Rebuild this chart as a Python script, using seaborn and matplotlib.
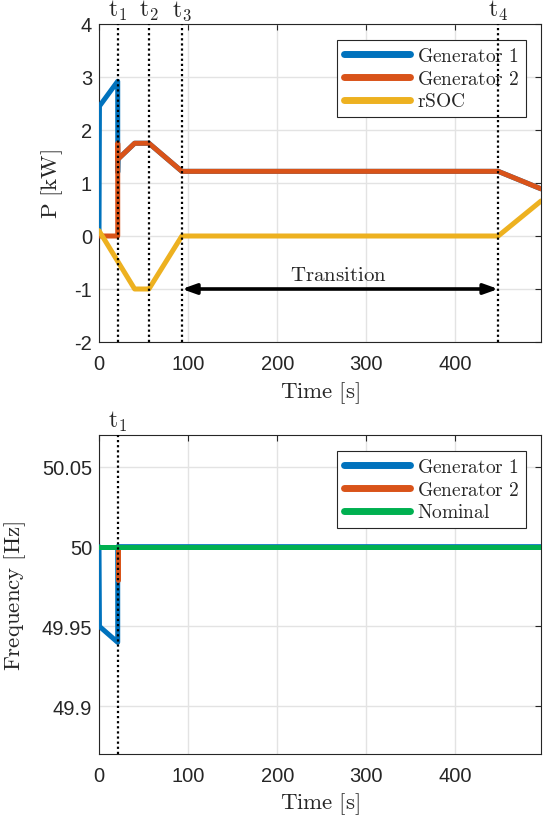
import numpy as np
import pandas as pd
import matplotlib
matplotlib.use("Agg")
import matplotlib.pyplot as plt
import matplotlib.transforms as mtransforms
import seaborn as sns

# ---- power profile (top panel) ----
t_gen1 = [0, 0.5, 21, 21, 21.3, 40, 56, 93, 448, 496]
p_gen1 = [0.1, 2.45, 2.92, 1.2, 1.45, 1.75, 1.75, 1.22, 1.22, 0.89]

t_gen2 = [0, 21, 21, 21.3, 40, 56, 93, 448, 496]
p_gen2 = [0, 0, 1.75, 1.45, 1.75, 1.75, 1.22, 1.22, 0.89]

t_rsoc = [0, 40, 56, 93, 448, 496]
p_rsoc = [0.1, -1, -1, 0, 0, 0.66]

# ---- frequency (bottom panel) ----
t_f_gen1 = [0, 0.5, 21, 21, 496]
f_gen1 = [50.0, 49.95, 49.94, 50.0, 50.0]

t_f_gen2 = [21, 21, 496]
f_gen2 = [49.979, 50.0, 50.0]

t_nominal = [0, 496]
f_nominal = [50.0, 50.0]

# event markers
event_times = [21, 56, 93, 448]
event_labels = ["1", "2", "3", "4"]

C_BLUE = "#0072BD"
C_RED = "#D95319"
C_YEL = "#EDB120"
C_GRN = "#00B050"

sns.set_theme(style="whitegrid")
plt.rcParams["font.family"] = ["Liberation Sans", "DejaVu Sans"]
plt.rcParams["mathtext.fontset"] = "cm"

fig = plt.figure(figsize=(5.43, 8.2), dpi=100)
ax1 = fig.add_axes([99 / 543, 1 - 343 / 820, 442 / 543, 318 / 820])
ax2 = fig.add_axes([99 / 543, 1 - 755 / 820, 442 / 543, 319 / 820])

LW = 3.6
LABEL_FS = 16.5


def line(ax, x, y, color, label, z):
    df = pd.DataFrame({"t": x, "v": y})
    sns.lineplot(data=df, x="t", y="v", ax=ax, estimator=None, sort=False,
                 color=color, linewidth=LW, label=label, zorder=z)


line(ax1, t_gen1, p_gen1, C_BLUE, r"$\mathrm{Generator\ 1}$", 3)
line(ax1, t_gen2, p_gen2, C_RED, r"$\mathrm{Generator\ 2}$", 4)
line(ax1, t_rsoc, p_rsoc, C_YEL, r"$\mathrm{rSOC}$", 5)

line(ax2, t_f_gen1, f_gen1, C_BLUE, r"$\mathrm{Generator\ 1}$", 3)
line(ax2, t_f_gen2, f_gen2, C_RED, r"$\mathrm{Generator\ 2}$", 4)
line(ax2, t_nominal, f_nominal, C_GRN, r"$\mathrm{Nominal}$", 5)


def style(ax, ylim, yticks, yticklabels):
    ax.set_facecolor("white")
    ax.set_xlim(0, 496)
    ax.set_ylim(*ylim)
    ax.set_xticks([0, 100, 200, 300, 400])
    ax.set_yticks(yticks)
    ax.set_yticklabels(yticklabels)
    ax.grid(True, color="#e3e3e3", linewidth=1.0)
    ax.set_axisbelow(True)
    for s in ax.spines.values():
        s.set_visible(True)
        s.set_color("#262626")
        s.set_linewidth(0.8)
    ax.tick_params(direction="in", length=4, width=0.8, colors="#262626",
                   top=True, right=True, labelsize=14.5)
    ax.tick_params(axis="x", pad=9)
    ax.tick_params(axis="y", pad=5)
    ax.set_xlabel(r"$\mathrm{Time\ [s]}$", fontsize=LABEL_FS, color="#262626")


style(ax1, (-2, 4), [-2, -1, 0, 1, 2, 3, 4], ["-2", "-1", "0", "1", "2", "3", "4"])
style(ax2, (49.87, 50.07), [49.9, 49.95, 50.0, 50.05], ["49.9", "49.95", "50", "50.05"])

ax1.set_ylabel(r"$\mathrm{P\ [kW]}$", fontsize=LABEL_FS, color="#262626")
ax2.set_ylabel(r"$\mathrm{Frequency\ [Hz]}$", fontsize=LABEL_FS, color="#262626")
ax1.yaxis.set_label_coords(-0.077, 0.5)
ax2.yaxis.set_label_coords(-0.160, 0.5)
ax1.xaxis.set_label_coords(0.5, -0.118)
ax2.xaxis.set_label_coords(0.5, -0.115)

# event lines with labels above the axes
for ax, times, labels in [(ax1, event_times, event_labels),
                          (ax2, event_times[:1], event_labels[:1])]:
    tr = mtransforms.blended_transform_factory(ax.transData, ax.transAxes)
    for t, lab in zip(times, labels):
        ax.axvline(t, color="black", linestyle=(0, (1, 1.3)), linewidth=1.6, zorder=6)
        ax.text(t, 1.005, r"$\mathrm{t}_{%s}$" % lab, transform=tr, ha="center",
                va="bottom", fontsize=17, color="#262626")

# transition span arrow
ax1.annotate("", xy=(event_times[3], -1), xytext=(event_times[2], -1),
             arrowprops=dict(arrowstyle="<|-|>,head_length=0.7,head_width=0.25",
                             color="black", lw=2.6, shrinkA=0, shrinkB=0),
             zorder=7)
ax1.text(268, -0.72, r"$\mathrm{Transition}$", ha="center", va="center",
         fontsize=15, color="#262626")

for ax in (ax1, ax2):
    leg = ax.legend(loc="upper right", bbox_to_anchor=(0.966, 0.95), borderaxespad=0,
                    fontsize=14, handlelength=3.4, handletextpad=0.35,
                    labelspacing=0.25, borderpad=0.35, frameon=True, fancybox=False,
                    framealpha=1, edgecolor="#262626")
    leg.get_frame().set_linewidth(0.8)
    for h in leg.get_lines():
        h.set_linewidth(5)

fig.savefig("out.png", dpi=100)
